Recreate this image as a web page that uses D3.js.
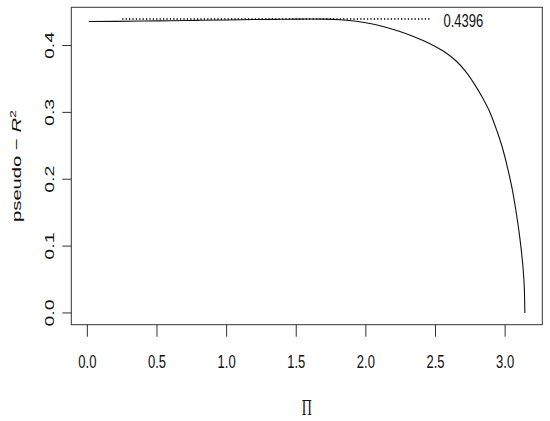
<!DOCTYPE html>
<html>
<head>
<meta charset="utf-8">
<script src="https://cdn.jsdelivr.net/npm/d3@7"></script>
<style>
  html, body { margin: 0; padding: 0; background: #fff; }
  svg { display: block; }
  text { font-family: "Liberation Sans", Arial, sans-serif; fill: #111; }
</style>
</head>
<body>
<script>
// ---- data ----
const piValues = [0.01, 0.2, 0.4, 0.6, 0.8, 1.0, 1.2, 1.4, 1.5, 1.6, 1.702, 1.819, 1.932, 2.039, 2.142, 2.239, 2.332, 2.419, 2.502, 2.579, 2.652, 2.719, 2.782, 2.839, 2.892, 2.939, 2.982, 3.019, 3.052, 3.079, 3.102, 3.119, 3.132, 3.139, 3.1416];
const r2Values = [0.4360, 0.4362, 0.4366, 0.4371, 0.4377, 0.4383, 0.4389, 0.4393, 0.4395, 0.4396, 0.4395, 0.4386, 0.4363, 0.4326, 0.4274, 0.4213, 0.4143, 0.4067, 0.3981, 0.3885, 0.3761, 0.3607, 0.3415, 0.3215, 0.2995, 0.2735, 0.2460, 0.2155, 0.1840, 0.1510, 0.1180, 0.0880, 0.0580, 0.0290, 0.0000];
const xTicks = [0, 0.5, 1, 1.5, 2, 2.5, 3];
const xTickLabels = ["0.0", "0.5", "1.0", "1.5", "2.0", "2.5", "3.0"];
const yTicks = [0, 0.1, 0.2, 0.3, 0.4];
const yTickLabels = ["0.0", "0.1", "0.2", "0.3", "0.4"];
const maxValue = 0.4396;
const maxLabel = "0.4396";
const maxLineRange = [0.25, 2.47];
const maxLabelX = 2.70;
const xTitle = "Π";

// ---- layout ----
const W = 550, H = 421;
const box = { left: 71.3, right: 542.3, top: 7.3, bottom: 324.7 };
const SY = 1.45; // vertical stretch of text as in reference

const svg = d3.select("body").append("svg").attr("width", W).attr("height", H);

function expand(ext) { const d = (ext[1] - ext[0]) * 0.04; return [ext[0] - d, ext[1] + d]; }
const x = d3.scaleLinear().domain(expand(d3.extent(piValues))).range([box.left, box.right]);
const y = d3.scaleLinear().domain(expand([d3.min(r2Values), d3.max(r2Values)])).range([box.bottom, box.top]);

const axisColor = "#333";

// box
svg.append("rect")
  .attr("x", box.left).attr("y", box.top)
  .attr("width", box.right - box.left).attr("height", box.bottom - box.top)
  .attr("fill", "none").attr("stroke", axisColor).attr("stroke-width", 1);

// x axis ticks
svg.append("g").selectAll("line").data(xTicks).join("line")
  .attr("x1", d => x(d)).attr("x2", d => x(d))
  .attr("y1", box.bottom).attr("y2", box.bottom + 12)
  .attr("stroke", axisColor);
svg.append("g").selectAll("text").data(xTicks).join("text")
  .attr("transform", d => `translate(${x(d)},367.7) scale(1,${SY})`)
  .attr("text-anchor", "middle").attr("font-size", 13)
  .text((d, i) => xTickLabels[i]);

// y axis ticks
svg.append("g").selectAll("line").data(yTicks).join("line")
  .attr("x1", box.left - 9).attr("x2", box.left)
  .attr("y1", d => y(d)).attr("y2", d => y(d))
  .attr("stroke", axisColor);
svg.append("g").selectAll("text").data(yTicks).join("text")
  .attr("transform", d => `translate(53.5,${y(d)}) scale(1,${SY}) rotate(-90)`)
  .attr("text-anchor", "middle").attr("font-size", 13.5)
  .text((d, i) => yTickLabels[i]);

// axis titles
svg.append("text")
  .attr("transform", `translate(${(box.left + box.right) / 2},415) scale(1,1.6)`)
  .attr("text-anchor", "middle").attr("font-size", 14)
  .style("font-family", "'Liberation Serif', 'DejaVu Serif', serif")
  .text(xTitle);

const yt = svg.append("text")
  .attr("transform", `translate(20.8,${(box.top + box.bottom) / 2}) scale(1,1.5) rotate(-90)`)
  .attr("text-anchor", "middle").attr("font-size", 13.5);
yt.append("tspan").text("pseudo \u2212 ");
yt.append("tspan").style("font-style", "italic").text("R");
yt.append("tspan").attr("font-size", 9.5).attr("dy", -5).text("2");

// dotted max line
svg.append("line")
  .attr("x1", x(maxLineRange[0])).attr("x2", x(maxLineRange[1]))
  .attr("y1", y(maxValue)).attr("y2", y(maxValue))
  .attr("stroke", "#000").attr("stroke-width", 1.4)
  .attr("stroke-dasharray", "1.3,2.1");
svg.append("text")
  .attr("transform", `translate(${x(maxLabelX)},${y(maxValue) + 8}) scale(1,${SY})`)
  .attr("text-anchor", "middle").attr("font-size", 13)
  .text(maxLabel);

// curve
const line = d3.line()
  .x((d, i) => x(piValues[i]))
  .y(d => y(d))
  .curve(d3.curveMonotoneX);
svg.append("path")
  .datum(r2Values)
  .attr("d", line)
  .attr("fill", "none").attr("stroke", "#111").attr("stroke-width", 1.1);
</script>
</body>
</html>
